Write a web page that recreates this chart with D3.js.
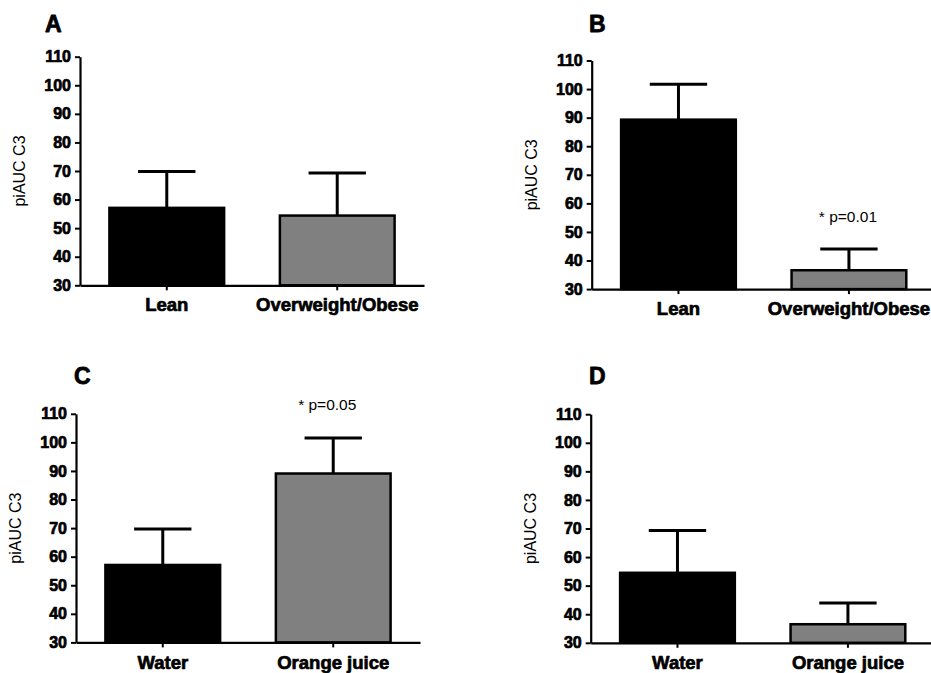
<!DOCTYPE html>
<html>
<head>
<meta charset="utf-8">
<script src="https://cdn.jsdelivr.net/npm/d3@7"></script>
<style>
  html, body { margin: 0; padding: 0; background: #fff; }
  svg { display: block; font-family: "Liberation Sans", Arial, Helvetica, sans-serif; }
</style>
</head>
<body>
<svg id="chart" width="931" height="673"></svg>
<script>
// ---- Data ----
const panelLetters = ["A", "B", "C", "D"];
const categoriesAB = ["Lean", "Overweight/Obese"];
const categoriesCD = ["Water", "Orange juice"];
const meansA = [57.1, 54.4];
const semA   = [12.7, 14.9];
const meansB = [89.3, 36.6];
const semB   = [12.4, 7.4];
const meansC = [57.1, 89.1];
const semC   = [12.6, 12.4];
const meansD = [54.5, 36.5];
const semD   = [14.8, 7.4];
const yTicks = [30, 40, 50, 60, 70, 80, 90, 100, 110];
const yDomain = [30, 110];
const yLabel = "piAUC C3";
const barColors = ["#000000", "#808080"];
// annotations: [panel index, category index, text, y value of baseline]
const annotations = [
  { panel: 1, cat: 1, text: "* p=0.01", y: 53.5, dx: -1 },
  { panel: 2, cat: 1, text: "* p=0.05", y: 111.4, dx: -6 }
];

// ---- Layout ----
const panels = [
  { letter: panelLetters[0], cats: categoriesAB, means: meansA, sem: semA, x: 80,    y: 56.7,  lx: 45,  ly: 32 },
  { letter: panelLetters[1], cats: categoriesAB, means: meansB, sem: semB, x: 591.7, y: 60.5,  lx: 589, ly: 31.7 },
  { letter: panelLetters[2], cats: categoriesCD, means: meansC, sem: semC, x: 76,    y: 413.8, lx: 74,  ly: 383.5 },
  { letter: panelLetters[3], cats: categoriesCD, means: meansD, sem: semD, x: 590.7, y: 414.2, lx: 589, ly: 383.5 }
];
const plotW = 344, plotH = 228.6;
const FONT = "'Liberation Sans', Arial, sans-serif";

const svg = d3.select("#chart");

function heavy(sel, size, sw) {
  sel.attr("fill", "#000")
    .style("font-size", size + "px")
    .style("font-weight", "bold")
    .style("font-family", FONT)
    .attr("stroke", "#000")
    .attr("stroke-width", sw)
    .attr("stroke-linejoin", "round");
}

panels.forEach((p, pi) => {
  const g = svg.append("g").attr("transform", `translate(${p.x},${p.y})`);
  const x = d3.scaleBand().domain(p.cats).range([0, plotW])
    .paddingInner(0.327).paddingOuter(0.1725);
  const y = d3.scaleLinear().domain(yDomain).range([plotH, 0]);

  // bars
  g.selectAll("rect.bar").data(p.means).join("rect")
    .attr("class", "bar")
    .attr("x", (d, i) => x(p.cats[i]))
    .attr("width", x.bandwidth())
    .attr("y", d => y(d))
    .attr("height", d => y(yDomain[0]) - y(d))
    .attr("fill", (d, i) => barColors[i])
    .attr("stroke", "#000")
    .attr("stroke-width", 2.5);

  // error bars
  const capW = x.bandwidth() / 2;
  p.means.forEach((m, i) => {
    const cx = x(p.cats[i]) + x.bandwidth() / 2;
    g.append("line")
      .attr("x1", cx).attr("x2", cx)
      .attr("y1", y(m)).attr("y2", y(m + p.sem[i]))
      .attr("stroke", "#000").attr("stroke-width", 3);
    g.append("line")
      .attr("x1", cx - capW / 2).attr("x2", cx + capW / 2)
      .attr("y1", y(m + p.sem[i])).attr("y2", y(m + p.sem[i]))
      .attr("stroke", "#000").attr("stroke-width", 3);
  });

  // y axis
  const ya = g.append("g")
    .call(d3.axisLeft(y).tickValues(yTicks).tickSize(5).tickSizeOuter(0).tickPadding(4));
  ya.select(".domain").attr("stroke", "#000").attr("stroke-width", 2.2);
  ya.selectAll(".tick line").attr("stroke", "#000").attr("stroke-width", 2);
  heavy(ya.selectAll(".tick text"), 16, 0.7);

  // x axis
  const xa = g.append("g").attr("transform", `translate(0,${plotH})`)
    .call(d3.axisBottom(x).tickSize(5).tickSizeOuter(0).tickPadding(8));
  xa.select(".domain").attr("stroke", "#000").attr("stroke-width", 2.2);
  xa.selectAll(".tick line").attr("stroke", "#000").attr("stroke-width", 2);
  heavy(xa.selectAll(".tick text"), 18.5, 0.7);

  // y label
  g.append("text")
    .attr("transform", `translate(-55,${plotH / 2}) rotate(-90)`)
    .attr("text-anchor", "middle")
    .style("font-size", "16px")
    .style("font-family", FONT)
    .attr("fill", "#000")
    .text(yLabel);

  // panel letter
  heavy(svg.append("text")
    .attr("x", p.lx).attr("y", p.ly)
    .text(p.letter), 23, 0.8);

  // annotations
  annotations.filter(a => a.panel === pi).forEach(a => {
    g.append("text")
      .attr("x", x(p.cats[a.cat]) + x.bandwidth() / 2 + a.dx)
      .attr("y", y(a.y))
      .attr("text-anchor", "middle")
      .style("font-size", "15.5px")
      .style("font-family", FONT)
      .attr("fill", "#000")
      .text(a.text);
  });
});
</script>
</body>
</html>
